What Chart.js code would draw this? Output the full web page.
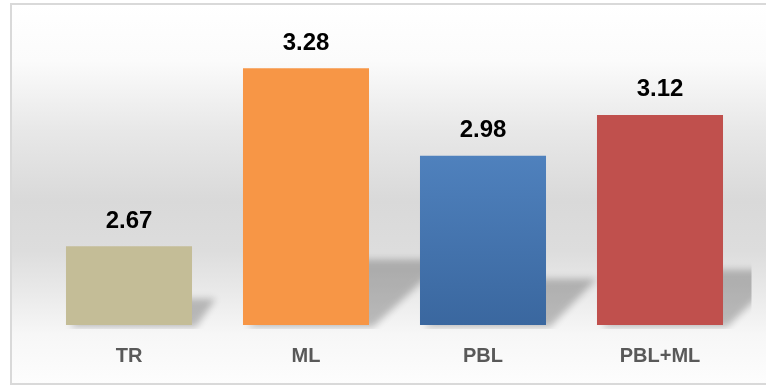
<!DOCTYPE html>
<html>
<head>
<meta charset="utf-8">
<script src="https://cdn.jsdelivr.net/npm/chart.js@4/dist/chart.umd.min.js"></script>
<style>
  html, body { margin: 0; padding: 0; background: #ffffff; }
  #wrap { width: 766px; height: 385px; }
</style>
</head>
<body>
<div id="wrap"><canvas id="chart" width="766" height="385"></canvas></div>
<script>
// Group labels and mean scores
const categories = ['TR', 'ML', 'PBL', 'PBL+ML'];
const scores = [2.67, 3.28, 2.98, 3.12];
const barColors = ['#c4bd97', '#f79646', null, '#c0504d'];
// PBL bar is shaded top-to-bottom
const blueTop = '#4f81bd';
const blueBottom = '#3a679f';
const axisMin = 2.4;
const axisMax = 3.5;

// Panel background: soft vertical grey band with a thin frame
const panelBackground = {
  id: 'panelBackground',
  beforeDraw(chart) {
    const ctx = chart.ctx;
    const top = 4, bottom = 384, left = 11;
    const g = ctx.createLinearGradient(0, top, 0, bottom);
    g.addColorStop(0.00, '#ffffff');
    g.addColorStop(0.15, '#fbfbfb');
    g.addColorStop(0.33, '#e8e8e8');
    g.addColorStop(0.52, '#d9d9d9');
    g.addColorStop(0.65, '#dddddd');
    g.addColorStop(0.78, '#ececec');
    g.addColorStop(0.87, '#f7f7f7');
    g.addColorStop(1.00, '#fdfdfd');
    ctx.save();
    ctx.fillStyle = '#ffffff';
    ctx.fillRect(0, 0, chart.width, chart.height);
    ctx.fillStyle = g;
    ctx.fillRect(left, top, chart.width - left + 5, bottom - top);
    ctx.strokeStyle = '#d9d9d9';
    ctx.lineWidth = 2;
    ctx.strokeRect(left, top, chart.width + 10, bottom - top);
    ctx.restore();
  }
};

// Slanted soft shadow cast behind each bar (shape drawn off-canvas, only its blurred shadow lands)
const barShadows = {
  id: 'barShadows',
  beforeDatasetsDraw(chart) {
    const ctx = chart.ctx;
    const area = chart.chartArea;
    const meta = chart.getDatasetMeta(0);
    const off = 3000;
    ctx.save();
    ctx.beginPath();
    ctx.rect(area.left, area.top, area.right - area.left + 3, area.bottom - area.top + 4);
    ctx.clip();
    ctx.shadowColor = 'rgba(0,0,0,0.24)';
    ctx.shadowBlur = 7;
    ctx.shadowOffsetX = off;
    ctx.shadowOffsetY = 0;
    ctx.fillStyle = '#000000';
    meta.data.forEach(el => {
      const h = el.base - el.y;
      const x0 = el.x - el.width / 2 - off;
      const x1 = el.x + el.width / 2 - off;
      const dx = 0.3 * h;
      const sh = 0.22 * h + 9;
      ctx.beginPath();
      ctx.moveTo(x0 + 4, el.base + 2);
      ctx.lineTo(x1 + 4, el.base + 2);
      ctx.lineTo(x1 + dx, el.base - sh);
      ctx.lineTo(x0 + dx, el.base - sh);
      ctx.closePath();
      ctx.fill();
    });
    ctx.restore();
  }
};

// Score printed above each bar
const valueLabels = {
  id: 'valueLabels',
  afterDatasetsDraw(chart) {
    const ctx = chart.ctx;
    const meta = chart.getDatasetMeta(0);
    const data = chart.data.datasets[0].data;
    ctx.save();
    ctx.font = 'bold 24px "Liberation Sans", Arial, sans-serif';
    ctx.fillStyle = '#000000';
    ctx.textAlign = 'center';
    ctx.textBaseline = 'alphabetic';
    meta.data.forEach((el, i) => {
      ctx.fillText(data[i].toFixed(2), el.x, el.y - 18.5);
    });
    ctx.restore();
  }
};

new Chart(document.getElementById('chart'), {
  type: 'bar',
  data: {
    labels: categories,
    datasets: [{
      data: scores,
      base: axisMin,
      backgroundColor(ctx) {
        const i = ctx.dataIndex;
        if (barColors[i]) return barColors[i];
        const chart = ctx.chart;
        const yScale = chart.scales.y;
        if (!chart.chartArea || !yScale) return blueTop;
        const g = chart.ctx.createLinearGradient(0, yScale.getPixelForValue(scores[i]), 0, yScale.getPixelForValue(axisMin));
        g.addColorStop(0, blueTop);
        g.addColorStop(1, blueBottom);
        return g;
      },
      borderWidth: 0,
      barPercentage: 0.712,
      categoryPercentage: 1.0
    }]
  },
  options: {
    responsive: false,
    animation: false,
    layout: { padding: { left: 40.5, right: 17.5, top: 4, bottom: 17 } },
    plugins: { legend: { display: false }, tooltip: { enabled: false } },
    scales: {
      y: { display: false, min: axisMin, max: axisMax },
      x: {
        afterFit(scale) { scale.height = 43; },
        grid: { display: false, drawTicks: false },
        border: { display: false },
        ticks: {
          padding: 19,
          color: '#595959',
          font: { family: '"Liberation Sans", Arial, sans-serif', size: 20, weight: 'bold', lineHeight: 1.2 }
        }
      }
    }
  },
  plugins: [panelBackground, barShadows, valueLabels]
});
</script>
</body>
</html>
